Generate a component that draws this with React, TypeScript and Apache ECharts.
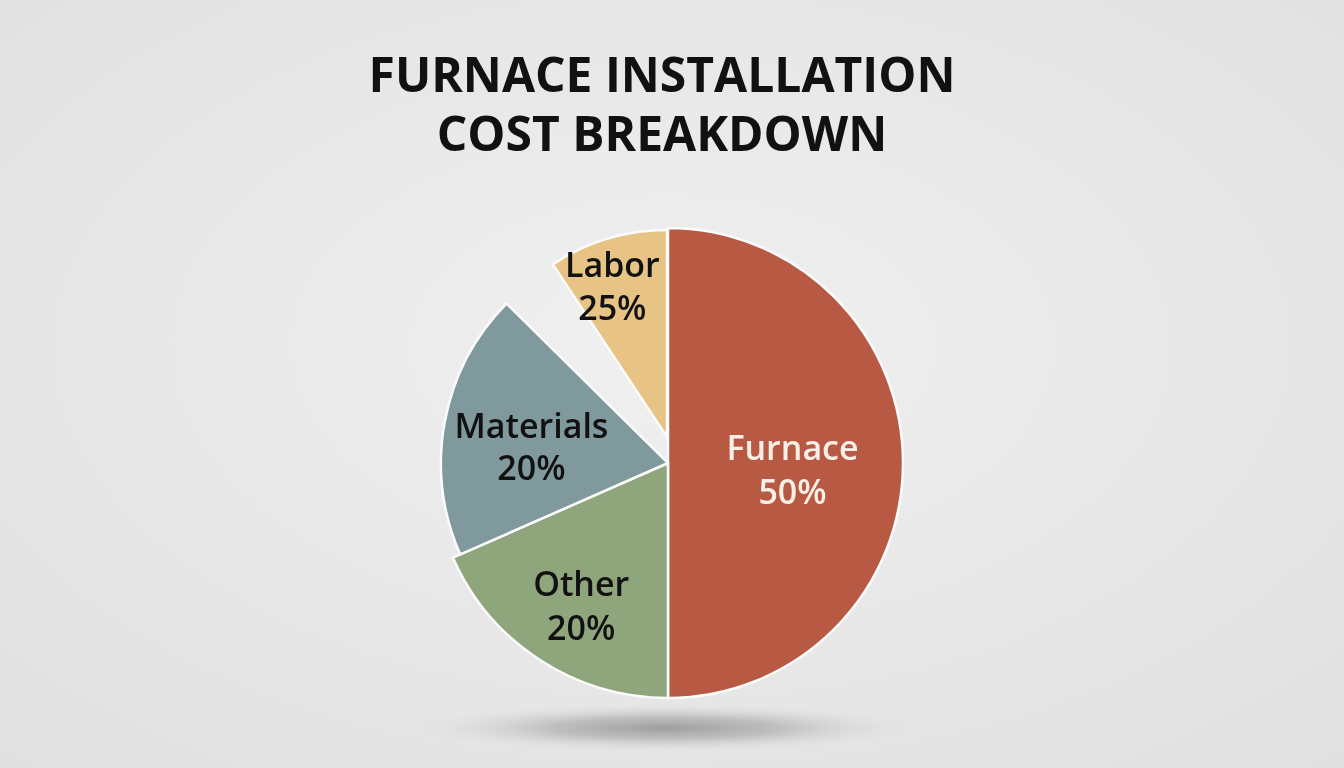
import { useEffect, useRef } from "react";
import * as echarts from "echarts";

// Slice order follows the drawing: clockwise from 12 o'clock.
const categories = ["Furnace", "Other", "Materials", "Labor"];
// Percentages as printed on the slices
const labelPercents = [50, 20, 20, 25];
// Share of the full circle each slice actually covers in the picture
const sliceShares = [50, 18.4, 19, 9.3];

const colors = ["#b85a43", "#8fa67c", "#7f999d", "#e7c385"];
const labelColors = ["#f8efe6", "#111111", "#111111", "#111111"];
const labelOffsets: Array<[number, number]> = [
	[4, 6],
	[-21, 41],
	[-22, 4],
	[-24, -50],
];
const labelLineHeights = [44, 44, 42, 43];

// each piece of the pie sits a little apart from the others
const pieces = [
	{ slices: [0, 1], center: [668, 463], radius: 235 },
	{ slices: [2], center: [668, 463], radius: 227 },
	{ slices: [3], center: [667, 437], radius: 207 },
];

const TITLE = "FURNACE INSTALLATION\nCOST BREAKDOWN";

export default function App() {
	const chartElementRef = useRef<HTMLDivElement | null>(null);

	useEffect(() => {
		if (!chartElementRef.current) return;
		const chart = echarts.init(chartElementRef.current, undefined, { renderer: "svg" });

		const gap = 100 - sliceShares.reduce((a, b) => a + b, 0);
		const blank = (name: string, value: number) => ({
			name,
			value,
			itemStyle: { color: "rgba(0,0,0,0)", borderWidth: 0 },
			label: { show: false },
			emphasis: { disabled: true },
		});

		const makeData = (visible: number[]) => {
			const items = categories.map((name, i) =>
				visible.includes(i)
					? {
							name,
							value: sliceShares[i],
							itemStyle: { color: colors[i] },
							label: {
								show: true,
								position: "inside",
								formatter: `${name}\n${labelPercents[i]}%`,
								color: labelColors[i],
								fontFamily: "Open Sans",
								fontWeight: 600,
								fontSize: 34,
								lineHeight: labelLineHeights[i],
								offset: labelOffsets[i],
							},
						}
					: blank(name, sliceShares[i]),
			);
			// the empty wedge between Materials and Labor
			items.splice(3, 0, blank("gap", gap));
			return items;
		};

		chart.setOption({
			animation: false,
			backgroundColor: new echarts.graphic.RadialGradient(0.5, 0.45, 0.75, [
				{ offset: 0, color: "#f0f0f0" },
				{ offset: 1, color: "#e0e0e0" },
			]),
			graphic: [
				{
					type: "text",
					x: 662,
					y: 44,
					style: {
						text: TITLE,
						textAlign: "center",
						textVerticalAlign: "top",
						fontFamily: "Open Sans",
						fontWeight: "bold",
						fontSize: 48,
						lineHeight: 59,
						fill: "#111111",
					},
				},
				{
					type: "ellipse",
					z: -1,
					shape: { cx: 665, cy: 728, rx: 250, ry: 24 },
					style: {
						fill: new echarts.graphic.RadialGradient(0.5, 0.5, 0.5, [
							{ offset: 0, color: "rgba(150,150,150,0.9)" },
							{ offset: 0.45, color: "rgba(165,165,165,0.6)" },
							{ offset: 1, color: "rgba(220,220,220,0)" },
						]),
					},
				},
			],
			series: pieces.map((p) => ({
				type: "pie",
				center: p.center,
				radius: p.radius,
				startAngle: 90,
				clockwise: true,
				avoidLabelOverlap: false,
				labelLine: { show: false },
				itemStyle: { borderColor: "#fbfbfb", borderWidth: 2.5 },
				data: makeData(p.slices),
			})),
		});

		const onResize = () => chart.resize();
		window.addEventListener("resize", onResize);
		return () => {
			window.removeEventListener("resize", onResize);
			chart.dispose();
		};
	}, []);

	return <div ref={chartElementRef} style={{ position: "fixed", left: 0, top: 0, width: "100vw", height: "100vh" }} />;
}
